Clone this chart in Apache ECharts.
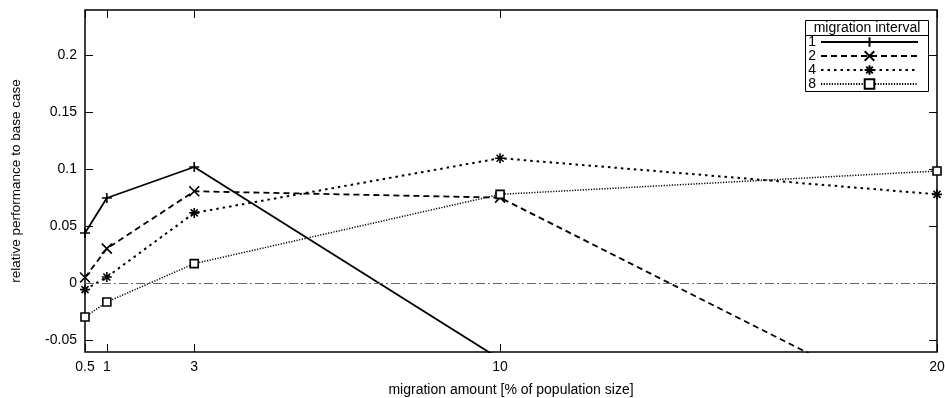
<!DOCTYPE html>
<html>
<head>
<meta charset="utf-8">
<script src="https://cdn.jsdelivr.net/npm/echarts@6/dist/echarts.min.js"></script>
<style>html,body{margin:0;padding:0;background:#fff;}#c{width:945px;height:398px;}</style>
</head>
<body>
<div id="c"></div>
<script>
var xValues = [0.5, 1, 3, 10, 20];
var seriesNames = ['1', '2', '4', '8'];
var interval1 = [0.0444, 0.0751, 0.1023, -0.0663, -0.20];
var interval2 = [0.0053, 0.0307, 0.0810, 0.0754, -0.118];
var interval4 = [-0.0053, 0.0058, 0.0620, 0.1100, 0.0783];
var interval8 = [-0.0293, -0.0161, 0.0175, 0.0783, 0.0988];
var xTicks = [0.5, 1, 3, 10, 20];
var yTicks = [-0.05, 0, 0.05, 0.1, 0.15, 0.2];

var FONT = 'Liberation Sans';
function pairs(vals) { return xValues.map(function (x, i) { return [x, vals[i]]; }); }

var symPlus = 'path://M5,0L5,10M0,5L10,5';
var symCross = 'path://M0,0L10,10M10,0L0,10';
var symStar = 'path://M5,0L5,10M0,5L10,5M1.5,1.5L8.5,8.5M8.5,1.5L1.5,8.5';

function mkSeries(name, vals, symbol, size, lineType, lineWidth, fill) {
  return {
    name: name, type: 'line', data: pairs(vals),
    xAxisIndex: 0, yAxisIndex: 0,
    symbol: symbol, symbolSize: size, showSymbol: true,
    lineStyle: { color: '#000', width: lineWidth, type: lineType },
    itemStyle: { color: fill, borderColor: '#000', borderWidth: 1.6 },
    emphasis: { disabled: true },
    animation: false, clip: true
  };
}

var series = [
  mkSeries(seriesNames[0], interval1, symPlus, 10, 'solid', 1.8, '#000'),
  mkSeries(seriesNames[1], interval2, symCross, 10, [6, 4], 1.8, '#000'),
  mkSeries(seriesNames[2], interval4, symStar, 10, [2.5, 4], 2, '#000'),
  mkSeries(seriesNames[3], interval8, 'rect', 8, [1.2, 1.5], 1.5, '#fff')
];
series[3].markLine = {
  silent: true, symbol: ['none', 'none'], label: { show: false },
  lineStyle: { color: '#666', width: 1, type: [9, 3, 2, 3] },
  data: [{ yAxis: 0 }], animation: false
};

var tickStyle = { show: true, inside: true, length: 8, lineStyle: { color: '#000', width: 1 } };

var option = {
  backgroundColor: '#fff',
  animation: false,
  grid: { left: 85, right: 8, top: 10, bottom: 46, outerBoundsMode: 'none', containLabel: false, show: true, borderColor: '#000', borderWidth: 1.5, backgroundColor: 'transparent' },
  xAxis: [{
    type: 'value', min: 0.5, max: 20, position: 'bottom',
    axisLine: { show: false, onZero: false },
    splitLine: { show: false },
    axisTick: Object.assign({ customValues: xTicks }, tickStyle),
    axisLabel: { customValues: xTicks, color: '#000', fontFamily: FONT, fontSize: 14, margin: 8 },
    name: 'migration amount [% of population size]', nameLocation: 'middle', nameGap: 31,
    nameTextStyle: { color: '#000', fontFamily: FONT, fontSize: 14 }
  }, {
    type: 'value', min: 0.5, max: 20, position: 'top',
    axisLine: { show: false, onZero: false }, splitLine: { show: false },
    axisTick: Object.assign({ customValues: xTicks }, tickStyle),
    axisLabel: { show: false }
  }],
  yAxis: [{
    type: 'value', min: -0.06, max: 0.24, position: 'left',
    axisLine: { show: false, onZero: false }, splitLine: { show: false },
    axisTick: Object.assign({ customValues: yTicks }, tickStyle),
    axisLabel: { customValues: yTicks, color: '#000', fontFamily: FONT, fontSize: 14, margin: 8 },
    name: 'relative performance to base case', nameLocation: 'middle', nameGap: 62,
    nameTextStyle: { color: '#000', fontFamily: FONT, fontSize: 13.5 }
  }, {
    type: 'value', min: -0.06, max: 0.24, position: 'right',
    axisLine: { show: false, onZero: false }, splitLine: { show: false },
    axisTick: Object.assign({ customValues: yTicks }, tickStyle),
    axisLabel: { show: false }
  }],
  legend: {
    orient: 'vertical', left: 806, top: 35, align: 'right', padding: 0,
    itemWidth: 97, itemHeight: 12, itemGap: 0, selectedMode: false,
    data: seriesNames,
    textStyle: { color: '#000', fontFamily: FONT, fontSize: 14, lineHeight: 12, width: 10 }
  },
  graphic: [
    { type: 'rect', shape: { x: 805.5, y: 20.5, width: 123, height: 71 }, style: { fill: 'none', stroke: '#000', lineWidth: 1 }, z: 10 },
    { type: 'line', shape: { x1: 805.5, y1: 35.5, x2: 928.5, y2: 35.5 }, style: { stroke: '#000', lineWidth: 1 }, z: 10 },
    { type: 'text', x: 867, y: 28.5, style: { text: 'migration interval', fontFamily: FONT, fontSize: 14, fill: '#000', align: 'center', verticalAlign: 'middle' }, z: 10 }
  ],
  series: series
};

var chart = echarts.init(document.getElementById('c'), null, { renderer: 'canvas' });
chart.setOption(option);
</script>
</body>
</html>
